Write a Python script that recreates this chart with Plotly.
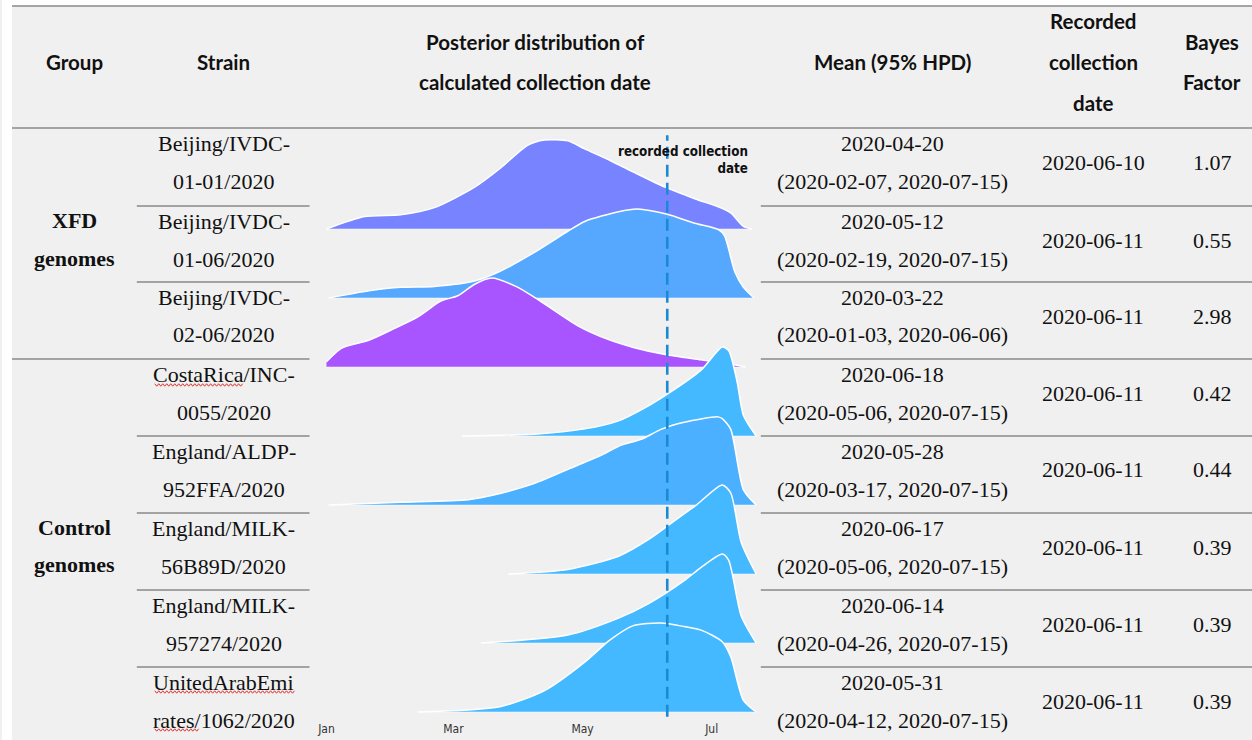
import plotly.graph_objects as go

W, H = 1252, 740

# ---------------- data ----------------
header_group = "Group"
header_strain = "Strain"
header_post = ["Posterior distribution of", "calculated collection date"]
header_mean = "Mean (95% HPD)"
header_rec = ["Recorded", "collection", "date"]
header_bf = ["Bayes", "Factor"]

group_lines = [["XFD", "genomes"], ["Control", "genomes"]]
group_sizes = [3, 5]

strain_line1 = ["Beijing/IVDC-", "Beijing/IVDC-", "Beijing/IVDC-", "CostaRica/INC-",
                "England/ALDP-", "England/MILK-", "England/MILK-", "UnitedArabEmi"]
strain_line2 = ["01-01/2020", "01-06/2020", "02-06/2020", "0055/2020",
                "952FFA/2020", "56B89D/2020", "957274/2020", "rates/1062/2020"]
mean_dates = ["2020-04-20", "2020-05-12", "2020-03-22", "2020-06-18",
              "2020-05-28", "2020-06-17", "2020-06-14", "2020-05-31"]
hpd_low = ["2020-02-07", "2020-02-19", "2020-01-03", "2020-05-06",
           "2020-03-17", "2020-05-06", "2020-04-26", "2020-04-12"]
hpd_high = ["2020-07-15", "2020-07-15", "2020-06-06", "2020-07-15",
            "2020-07-15", "2020-07-15", "2020-07-15", "2020-07-15"]
recorded_dates = ["2020-06-10", "2020-06-11", "2020-06-11", "2020-06-11",
                  "2020-06-11", "2020-06-11", "2020-06-11", "2020-06-11"]
bayes_factor = ["1.07", "0.55", "2.98", "0.42", "0.44", "0.39", "0.39", "0.39"]

recorded_line_date = "2020-06-10"
recorded_label = "recorded collection<br>date"

# posterior density curves (relative density, peak = 1)
dens_dates = [
    ["2020-01-01", "2020-01-19", "2020-02-05", "2020-02-21", "2020-03-11", "2020-03-23",
     "2020-04-05", "2020-04-13", "2020-04-24", "2020-05-02", "2020-05-14", "2020-05-25",
     "2020-06-09", "2020-06-23", "2020-07-05", "2020-07-10", "2020-07-16", "2020-07-20"],
    ["2020-01-02", "2020-01-21", "2020-02-05", "2020-02-21", "2020-03-11", "2020-03-23",
     "2020-04-08", "2020-04-24", "2020-05-02", "2020-05-18", "2020-05-27", "2020-06-10",
     "2020-06-23", "2020-07-04", "2020-07-07", "2020-07-12", "2020-07-16", "2020-07-21"],
    ["2020-01-01", "2020-01-08", "2020-01-21", "2020-02-01", "2020-02-13", "2020-02-24",
     "2020-03-03", "2020-03-11", "2020-03-19", "2020-03-31", "2020-04-11", "2020-04-29",
     "2020-05-13", "2020-05-25", "2020-06-09", "2020-06-26", "2020-07-10", "2020-07-17"],
    ["2020-03-05", "2020-04-08", "2020-05-02", "2020-05-18", "2020-05-30", "2020-06-10",
     "2020-06-26", "2020-07-06", "2020-07-09", "2020-07-13", "2020-07-16", "2020-07-22"],
    ["2020-01-02", "2020-02-05", "2020-03-08", "2020-03-23", "2020-04-08", "2020-04-27",
     "2020-05-10", "2020-05-19", "2020-05-29", "2020-06-07", "2020-06-18", "2020-07-04",
     "2020-07-06", "2020-07-10", "2020-07-16", "2020-07-22"],
    ["2020-03-27", "2020-04-24", "2020-05-18", "2020-06-02", "2020-06-13", "2020-06-24",
     "2020-07-06", "2020-07-10", "2020-07-15", "2020-07-22"],
    ["2020-03-14", "2020-04-24", "2020-05-18", "2020-06-01", "2020-06-18", "2020-06-26",
     "2020-07-06", "2020-07-09", "2020-07-15", "2020-07-22"],
    ["2020-02-13", "2020-03-23", "2020-04-13", "2020-05-02", "2020-05-14", "2020-05-25",
     "2020-06-07", "2020-06-18", "2020-06-26", "2020-07-06", "2020-07-10", "2020-07-16",
     "2020-07-22"],
]
dens_values = [
    [0.0, 0.14, 0.16, 0.24, 0.47, 0.68, 0.94, 1.0, 0.99, 0.90, 0.77, 0.64, 0.47, 0.34, 0.24, 0.18, 0.03, 0.0],
    [0.0, 0.08, 0.12, 0.13, 0.19, 0.30, 0.51, 0.75, 0.86, 0.97, 1.0, 0.94, 0.84, 0.77, 0.70, 0.29, 0.12, 0.0],
    [0.06, 0.21, 0.30, 0.42, 0.56, 0.74, 0.80, 0.93, 1.0, 0.90, 0.74, 0.46, 0.31, 0.22, 0.14, 0.08, 0.03, 0.0],
    [0.0, 0.02, 0.08, 0.17, 0.31, 0.47, 0.74, 1.0, 0.96, 0.61, 0.23, 0.0],
    [0.0, 0.03, 0.06, 0.13, 0.24, 0.43, 0.56, 0.67, 0.74, 0.85, 0.93, 0.99, 0.97, 0.85, 0.17, 0.0],
    [0.0, 0.05, 0.20, 0.40, 0.59, 0.78, 1.0, 0.91, 0.35, 0.0],
    [0.0, 0.09, 0.28, 0.44, 0.70, 0.85, 1.0, 0.93, 0.30, 0.0],
    [0.0, 0.06, 0.24, 0.56, 0.81, 0.97, 1.0, 0.96, 0.92, 0.79, 0.62, 0.13, 0.0],
]

tick_dates = ["2020-01-01", "2020-03-01", "2020-05-01", "2020-07-01"]
tick_labels = ["Jan", "Mar", "May", "Jul"]

# ---------------- styles ----------------
ridge_colors = ["#7884ff", "#56a8ff", "#a855ff", "#45b9ff",
                "#4bb0ff", "#45b9ff", "#45b9ff", "#45b9ff"]
BG = "#f0f0f0"
LINE = "#8a8a8a"
SERIF = "Liberation Serif, Times New Roman, serif"
HEAD = "Lato, Open Sans, sans-serif"
COND = "DejaVu Sans Condensed, DejaVu Sans, sans-serif"
RIDGE_SCALE = 1.29
HEAD_SIZE = 20.5
BODY_SIZE = 22

row_tops = [128, 206, 282, 359, 436, 513, 590, 667]

def px(x):
    return x / W

def py(y):
    return 1 - y / H

fig = go.Figure()
n = len(dens_values)
for i in range(n):
    off = n - 1 - i
    d = dens_dates[i]
    v = dens_values[i]
    fig.add_trace(go.Scatter(x=[d[0], d[-1]], y=[off, off], mode="lines",
                             line=dict(width=0.8, color="rgba(255,255,255,0.6)"),
                             hoverinfo="skip", showlegend=False))
    fig.add_trace(go.Scatter(x=d, y=[off + RIDGE_SCALE * val for val in v], mode="lines",
                             fill="tonexty", fillcolor=ridge_colors[i],
                             line=dict(color="white", width=1.5, shape="spline", smoothing=0.7),
                             hoverinfo="skip", showlegend=False))

# recorded collection date line
fig.add_trace(go.Scatter(x=[recorded_line_date, recorded_line_date], y=[-0.07, 8.36],
                         mode="lines", line=dict(color="#1b8ad2", width=2.6, dash="12px,6px"),
                         hoverinfo="skip", showlegend=False))

shapes = []
shapes.append(dict(type="rect", xref="paper", yref="paper", x0=0, x1=1, y0=py(6), y1=1,
                   fillcolor="white", line=dict(width=0), layer="below"))
shapes.append(dict(type="rect", xref="paper", yref="paper", x0=0, x1=px(10), y0=0, y1=1,
                   fillcolor="white", line=dict(width=0), layer="below"))

def hline(y, x0, x1, w=1.3):
    shapes.append(dict(type="line", xref="paper", yref="paper", x0=px(x0), x1=px(x1),
                       y0=py(y), y1=py(y), line=dict(color=LINE, width=w)))

hline(6, 10, W, 1.6)
hline(128, 10, W, 1.6)
hline(359, 10, 308, 1.6)
hline(359, 760, W, 1.6)
for k, t in enumerate(row_tops):
    if k in (0, 3):
        continue
    hline(t, 135, 308)
    hline(t, 760, W)

# spell-check style wavy underlines (decoration)
def wavy(x0, x1, y):
    pts = []
    xx = x0
    k = 0
    while xx <= x1:
        pts.append((xx, y + (1.2 if k % 2 else -1.2)))
        xx += 2.0
        k += 1
    path = "M " + " L ".join("{:.4f},{:.4f}".format(px(a), py(b)) for a, b in pts)
    shapes.append(dict(type="path", xref="paper", yref="paper", path=path,
                       line=dict(color="#e03030", width=1)))

wavy(153, 242, 385)
wavy(153, 293, 692)
wavy(153, 198, 730)

ann = []

def txt(x, y, s, font, size, bold=False, color="#111111", anchor="center"):
    ann.append(dict(x=px(x), y=py(y), xref="paper", yref="paper", text=s, showarrow=False,
                    xanchor=anchor, yanchor="middle",
                    font=dict(family=font, size=size, color=color,
                              weight="bold" if bold else "normal")))

# header
txt(73, 62, header_group, HEAD, HEAD_SIZE, True)
txt(222, 62, header_strain, HEAD, HEAD_SIZE, True)
txt(534, 42, header_post[0], HEAD, HEAD_SIZE, True)
txt(534, 82, header_post[1], HEAD, HEAD_SIZE, True)
txt(892, 62, header_mean, HEAD, HEAD_SIZE, True)
for j, s in enumerate(header_rec):
    txt(1093, 21 + 41 * j, s, HEAD, HEAD_SIZE, True)
txt(1212, 42, header_bf[0], HEAD, HEAD_SIZE, True)
txt(1212, 82, header_bf[1], HEAD, HEAD_SIZE, True)

# groups
start = 0
for g, size in zip(group_lines, group_sizes):
    top = row_tops[start]
    bottom = row_tops[start + size] if start + size < len(row_tops) else H
    c = (top + bottom) / 2 - 4
    txt(73, c - 18.5, g[0], SERIF, BODY_SIZE, True)
    txt(73, c + 18.5, g[1], SERIF, BODY_SIZE, True)
    start += size

# rows
for i in range(n):
    t = row_tops[i]
    txt(222, t + 15.5, strain_line1[i], SERIF, BODY_SIZE)
    txt(222, t + 53, strain_line2[i], SERIF, BODY_SIZE)
    txt(892, t + 15.5, mean_dates[i], SERIF, BODY_SIZE)
    txt(892, t + 53, "(" + hpd_low[i] + ", " + hpd_high[i] + ")", SERIF, BODY_SIZE)
    txt(1093, t + 34, recorded_dates[i], SERIF, BODY_SIZE)
    txt(1212, t + 34, bayes_factor[i], SERIF, BODY_SIZE)

# recorded label
ann.append(dict(x=px(749), y=py(142), xref="paper", yref="paper", text=recorded_label,
                showarrow=False, xanchor="right", yanchor="top", align="right",
                font=dict(family=COND, size=13.3, color="#111111", weight="bold")))

fig.update_layout(
    width=W, height=H, margin=dict(l=0, r=0, t=0, b=0),
    paper_bgcolor=BG, plot_bgcolor="rgba(0,0,0,0)",
    shapes=shapes, annotations=ann, showlegend=False,
    xaxis=dict(domain=[px(318), px(758)], type="date",
               range=["2019-12-28 16:45", "2020-07-23 06:00"],
               tickvals=tick_dates, ticktext=tick_labels, showgrid=False, zeroline=False,
               showline=False, ticks="", tickfont=dict(family=COND, size=12, color="#333333"),
               fixedrange=True),
    yaxis=dict(domain=[py(720), py(130)], range=[-0.1159, 8.4348], visible=False,
               showgrid=False, zeroline=False, fixedrange=True),
)

fig.write_html("out.html", config={"displayModeBar": False},
               post_script="document.body.style.margin='0';document.body.style.overflow='hidden';")
